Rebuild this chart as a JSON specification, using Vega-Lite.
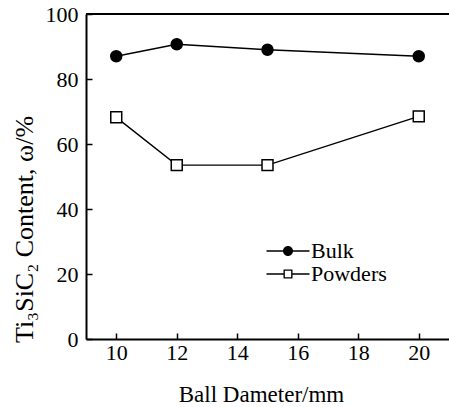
{
  "$schema": "https://vega.github.io/schema/vega-lite/v6.json",
  "autosize": "none",
  "width": 363,
  "height": 325,
  "padding": {"left": 86, "top": 14, "right": 0, "bottom": 68},
  "background": "white",
  "config": {
    "view": {"stroke": null},
    "font": "'Liberation Serif', 'Times New Roman', serif",
    "axis": {
      "labelFont": "'Liberation Serif', 'Times New Roman', serif",
      "titleFont": "'Liberation Serif', 'Times New Roman', serif",
      "labelColor": "black",
      "titleColor": "black",
      "domainColor": "black",
      "tickColor": "black",
      "domainWidth": 2,
      "tickWidth": 1.5,
      "labelFontSize": 22,
      "titleFontSize": 23,
      "titleFontWeight": "normal",
      "grid": false
    },
    "legend": {"labelFont": "'Liberation Serif', 'Times New Roman', serif", "labelFontSize": 22, "labelColor": "black"}
  },
  "data": {
    "values": [
      {"d": 10, "v": 87, "s": "Bulk"},
      {"d": 12, "v": 90.7, "s": "Bulk"},
      {"d": 15, "v": 89, "s": "Bulk"},
      {"d": 20, "v": 87, "s": "Bulk"},
      {"d": 10, "v": 68.2, "s": "Powders"},
      {"d": 12, "v": 53.5, "s": "Powders"},
      {"d": 15, "v": 53.5, "s": "Powders"},
      {"d": 20, "v": 68.5, "s": "Powders"}
    ]
  },
  "resolve": {"scale": {"shape": "independent"}},
  "layer": [
    {
      "mark": {"type": "rule", "color": "black", "strokeWidth": 2},
      "encoding": {"y": {"datum": 100}}
    },
    {
      "mark": {"type": "line", "color": "black", "strokeWidth": 1.4},
      "encoding": {
        "x": {
          "field": "d", "type": "quantitative",
          "scale": {"domain": [9, 21], "nice": false, "zero": false},
          "axis": {
            "values": [10, 12, 14, 16, 18, 20],
            "tickSize": -6,
            "labelPadding": 9,
            "title": "Ball Dameter/mm",
            "titleX": 175,
            "titleY": 62,
            "titleBaseline": "alphabetic"
          }
        },
        "y": {
          "field": "v", "type": "quantitative",
          "scale": {"domain": [0, 100], "nice": false},
          "axis": {
            "values": [0, 10, 20, 30, 40, 50, 60, 70, 80, 90, 100],
            "labelExpr": "datum.value % 20 == 0 ? datum.label : ''",
            "tickSize": -6,
            "labelPadding": 14,
            "title": "Ti₃SiC₂ Content, ω/%",
            "titleFontSize": 26,
            "titleX": -54,
            "titleY": 215,
            "titleBaseline": "alphabetic"
          }
        },
        "detail": {"field": "s"}
      }
    },
    {
      "mark": {"type": "point", "filled": true, "stroke": "black", "strokeWidth": 1.5, "size": 120, "opacity": 1},
      "encoding": {
        "x": {"field": "d", "type": "quantitative"},
        "y": {"field": "v", "type": "quantitative"},
        "shape": {
          "field": "s", "type": "nominal",
          "scale": {"domain": ["Bulk", "Powders"], "range": ["circle", "square"]},
          "legend": null
        },
        "fill": {
          "field": "s", "type": "nominal",
          "scale": {"domain": ["Bulk", "Powders"], "range": ["black", "white"]},
          "legend": null
        }
      }
    },
    {
      "transform": [{"filter": "false"}],
      "mark": {"type": "point", "filled": true, "color": "black", "opacity": 1},
      "encoding": {
        "x": {"field": "d", "type": "quantitative"},
        "y": {"field": "v", "type": "quantitative"},
        "shape": {
          "field": "s", "type": "nominal",
          "scale": {"domain": ["Bulk", "Powders"], "range": ["M-4.3,-0.14H-0.9V0.14H-4.3ZM0.9,-0.14H4.3V0.14H0.9ZM-1,0A1,1,0,1,1,1,0A1,1,0,1,1,-1,0Z", "M-4.3,-0.14H-0.9V0.14H-4.3ZM0.9,-0.14H4.3V0.14H0.9ZM-0.9,-0.9H0.9V0.9H-0.9ZM-0.63,-0.63V0.63H0.63V-0.63Z"]},
          "legend": {
            "title": null,
            "orient": "none",
            "legendX": 191,
            "legendY": 226,
            "padding": 0,
            "symbolSize": 100,
            "labelOffset": 12,
            "rowPadding": 1,
            "symbolStrokeWidth": 0,
            "symbolFillColor": "black",
            "symbolOpacity": 1
          }
        }
      }
    }
  ]
}
